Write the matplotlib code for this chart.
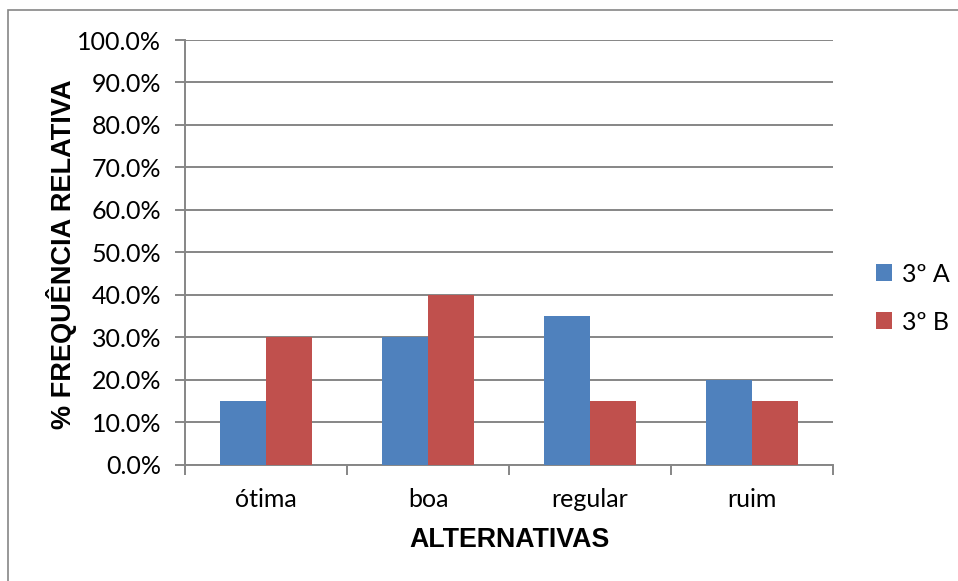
import matplotlib
matplotlib.use("Agg")
import matplotlib.pyplot as plt
from matplotlib.patches import Rectangle
from matplotlib.ticker import FuncFormatter, MultipleLocator
import numpy as np

categories = ["ótima", "boa", "regular", "ruim"]
series_names = ["3º A", "3º B"]
turma_a = [0.15, 0.30, 0.35, 0.20]
turma_b = [0.30, 0.40, 0.15, 0.15]
colors = ["#4F81BD", "#C0504D"]

W, H = 958, 581
fig = plt.figure(figsize=(W / 100, H / 100), dpi=100)
fig.patch.set_facecolor("white")

# outer chart frame
frame = Rectangle((8 / W, -0.1), 1.2, 1 - 10 / H + 0.1, transform=fig.transFigure,
                  fill=False, edgecolor="#868686", linewidth=1.2, clip_on=False)
fig.add_artist(frame)

left, right, top, bottom = 185, 833, 40, 464.5
ax = fig.add_axes([left / W, 1 - bottom / H, (right - left) / W, (bottom - top) / H])

x = np.arange(len(categories))
bw = 0.285
ax.bar(x - bw / 2, turma_a, bw, color=colors[0], label=series_names[0], zorder=3)
ax.bar(x + bw / 2, turma_b, bw, color=colors[1], label=series_names[1], zorder=3)

ax.set_xlim(-0.5, len(categories) - 0.5)
ax.set_ylim(0, 1.0)
ax.yaxis.set_major_locator(MultipleLocator(0.1))
ax.yaxis.set_major_formatter(FuncFormatter(lambda v, p: f"{v * 100:.1f}%"))
ax.grid(axis="y", color="#868686", linewidth=1.4, zorder=0)

ax.set_xticks(x)
ax.set_xticklabels(categories)
ax.set_xticks(np.arange(-0.5, len(categories), 1.0), minor=True)
ax.tick_params(axis="x", which="major", length=0, pad=17, labelsize=18)
ax.tick_params(axis="x", which="minor", length=7, width=1.4, color="#868686", direction="out")
ax.tick_params(axis="y", length=7, width=1.4, color="#868686", labelsize=18, pad=10)
for lab in ax.get_xticklabels() + ax.get_yticklabels():
    lab.set_fontfamily("Lato")

for s in ["top", "right"]:
    ax.spines[s].set_visible(False)
for s in ["left", "bottom"]:
    ax.spines[s].set_color("#868686")
    ax.spines[s].set_linewidth(1.4)

fig.text(509 / W, 1 - 540 / H, "ALTERNATIVAS", ha="center", va="center",
         fontsize=19.3, fontweight="bold", family="Liberation Sans")
fig.text(62 / W, 1 - 254 / H, "% FREQUÊNCIA RELATIVA", ha="center", va="center",
         rotation=90, fontsize=19.5, fontweight="bold", family="Liberation Sans")

leg = ax.legend(loc="center left", bbox_to_anchor=(866 / W, 1 - 298 / H),
                bbox_transform=fig.transFigure, frameon=False, borderaxespad=0,
                prop={"family": "Lato", "size": 18}, handlelength=0.65,
                handleheight=0.65, handletextpad=0.4, labelspacing=1.0)

fig.savefig("out.png", dpi=100, facecolor="white")
